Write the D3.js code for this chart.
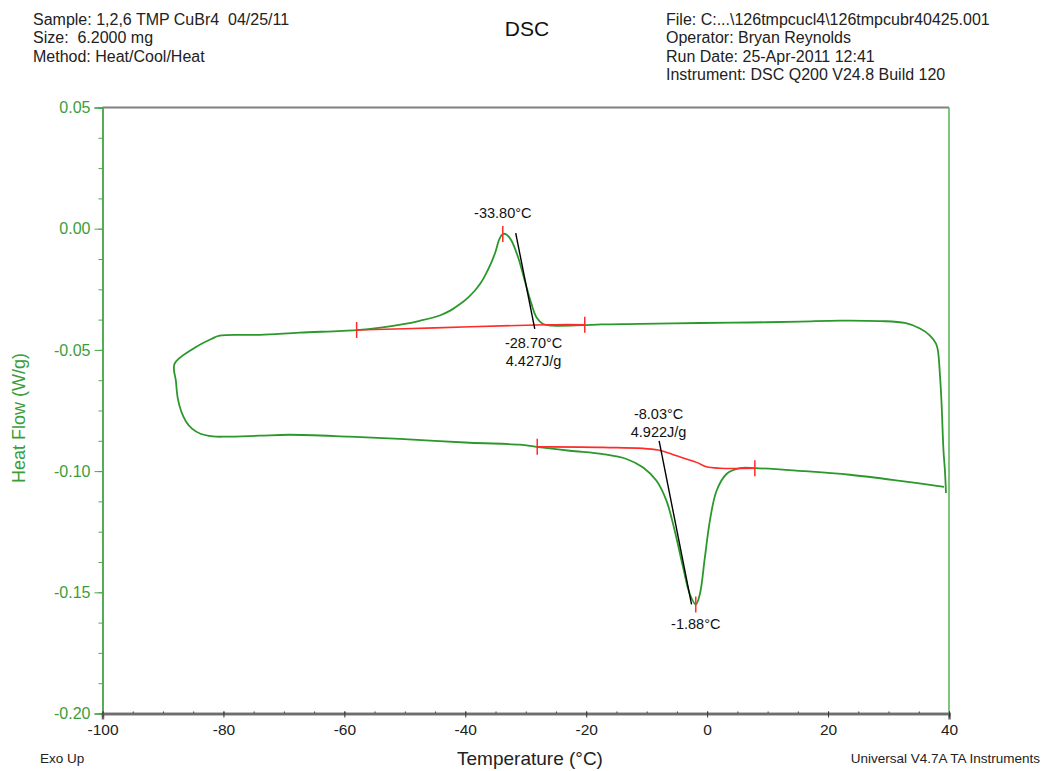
<!DOCTYPE html>
<html>
<head>
<meta charset="utf-8">
<script src="https://cdn.jsdelivr.net/npm/d3@7"></script>
<style>
  body { margin: 0; background: #fff; }
  svg { font-family: "Liberation Sans", Arial, sans-serif; }
</style>
</head>
<body>
<svg id="chart" width="1043" height="771"></svg>
<script>
// DSC trace: cool from 40 down to -88, then heat back to 40
const temperature = [
    39.50, 39.33, 39.09, 38.75, 38.51, 38.17, 37.85, 36.85, 35.20, 32.71,
    28.58, 21.96, 15.34, 7.07, -1.21, -11.14, -17.52, -20.57, -25.53, -27.14,
    -28.23, -29.06, -30.17, -31.28, -32.40, -33.20, -33.80, -34.40, -35.00, -35.70,
    -36.50, -37.40, -38.44, -39.50, -40.92, -42.50, -44.23, -47.54, -50.50, -54.00,
    -57.97, -67.40, -74.02, -80.64, -82.01, -85.06, -88.09, -87.85, -87.55, -87.00,
    -86.20, -85.20, -83.80, -81.75, -79.53, -74.02, -69.06, -59.13, -50.85, -39.27,
    -31.00, -28.23, -22.72, -17.21, -13.34, -10.59, -8.37, -6.72, -5.35, -3.97,
    -2.86, -1.88, -1.21, -0.38, 0.45, 1.56, 3.21, 5.41, 8.00, 15.34,
    23.60, 31.90, 39.17
];
const heatFlow = [
    -0.1090, -0.0999, -0.0916, -0.0710, -0.0606, -0.0503, -0.0474, -0.0441, -0.0412, -0.0389,
    -0.0381, -0.0379, -0.0383, -0.0387, -0.0389, -0.0393, -0.0395, -0.0398, -0.0400, -0.0393,
    -0.0365, -0.0310, -0.0214, -0.0117, -0.0048, -0.0024, -0.0022, -0.0045, -0.0095, -0.0140,
    -0.0182, -0.0222, -0.0256, -0.0283, -0.0312, -0.0338, -0.0358, -0.0380, -0.0395, -0.0408,
    -0.0418, -0.0429, -0.0438, -0.0441, -0.0455, -0.0496, -0.0558, -0.0630, -0.0700, -0.0752,
    -0.0795, -0.0825, -0.0846, -0.0857, -0.0858, -0.0854, -0.0850, -0.0858, -0.0867, -0.0883,
    -0.0891, -0.0900, -0.0916, -0.0930, -0.0950, -0.0985, -0.1040, -0.1123, -0.1247, -0.1398,
    -0.1508, -0.1550, -0.1508, -0.1357, -0.1205, -0.1081, -0.1012, -0.0988, -0.0988, -0.0999,
    -0.1015, -0.1040, -0.1065
];

// integration baselines
const upperBaseT = [-57.97, -45.0, -30.0, -25.0, -20.24];
const upperBaseHF = [-0.0418, -0.0409, -0.0398, -0.0396, -0.0396];
const lowerBaseT = [-28.10, -17.20, -8.10, -5.06, -1.75, -0.10, 2.10, 7.89];
const lowerBaseHF = [-0.0900, -0.0902, -0.0913, -0.0937, -0.0964, -0.0982, -0.0988, -0.0988];

// onset tangents [start, end]
const upperTangentT = [-31.66, -28.51];
const upperTangentHF = [-0.0018, -0.0413];
const lowerTangentT = [-7.94, -2.58];
const lowerTangentHF = [-0.0875, -0.1550];

// red limit / peak markers
const markerT = [-57.97, -20.24, -33.80, -28.10, 7.89, -1.88];
const markerHF = [-0.0418, -0.0396, -0.0022, -0.0900, -0.0988, -0.1550];

// annotation labels, anchored at a data point
const labelText = ['-33.80°C', '-28.70°C', '4.427J/g', '-8.03°C', '4.922J/g', '-1.88°C'];
const labelT = [-33.80, -28.70, -28.70, -8.03, -8.03, -1.88];
const labelHF = [-0.0022, -0.0397, -0.0397, -0.0913, -0.0913, -0.1550];
const labelDy = [-16, 23, 41, -31, -13, 25];

// axes
const xTickValues = [-100, -80, -60, -40, -20, 0, 20, 40];
const xTickLabels = ['-100', '-80', '-60', '-40', '-20', '0', '20', '40'];
const yTickValues = [0.05, 0.00, -0.05, -0.10, -0.15, -0.20];
const yTickLabels = ['0.05', '0.00', '-0.05', '-0.10', '-0.15', '-0.20'];

const headerLeft = ['Sample: 1,2,6 TMP CuBr4  04/25/11', 'Size:  6.2000 mg', 'Method: Heat/Cool/Heat'];
const headerRight = ['File: C:...\\126tmpcucl4\\126tmpcubr40425.001', 'Operator: Bryan Reynolds',
    'Run Date: 25-Apr-2011 12:41', 'Instrument: DSC Q200 V24.8 Build 120'];

const GREEN = '#2b982b';
const LABEL_GREEN = '#3a9e3a';
const RED = '#ff2a2a';

const margin = { top: 107.5, left: 102.5, right: 94, bottom: 57.5 };
const svg = d3.select('#chart');
const width = 1043 - margin.left - margin.right;
const height = 771 - margin.top - margin.bottom;

const xScale = d3.scaleLinear().domain([-100, 40]).range([margin.left, margin.left + width]);
const yScale = d3.scaleLinear().domain([-0.20, 0.05]).range([margin.top + height, margin.top]);

// header
svg.append('g').selectAll('text').data(headerLeft).join('text')
    .attr('x', 33).attr('y', (d, i) => 24.5 + i * 18.5)
    .attr('font-size', 16).attr('fill', '#222')
    .style('white-space', 'pre')
    .text(d => d);
svg.append('g').selectAll('text').data(headerRight).join('text')
    .attr('x', 666).attr('y', (d, i) => 24.5 + i * 18.5)
    .attr('font-size', 16).attr('fill', '#222')
    .text(d => d);
svg.append('text')
    .attr('x', 527).attr('y', 36)
    .attr('text-anchor', 'middle')
    .attr('font-size', 21).attr('fill', '#111')
    .text('DSC');

// frame: top grey, right green
svg.append('line')
    .attr('x1', xScale(-100)).attr('x2', xScale(40))
    .attr('y1', yScale(0.05)).attr('y2', yScale(0.05))
    .attr('stroke', '#808080').attr('stroke-width', 2);
svg.append('line')
    .attr('x1', xScale(40)).attr('x2', xScale(40))
    .attr('y1', yScale(0.05)).attr('y2', yScale(-0.20))
    .attr('stroke', '#55b055').attr('stroke-width', 1.5);

// y axis
const yMinor = d3.range(-0.20, 0.0501, 0.0125);
const yMinorAxis = svg.append('g')
    .attr('transform', `translate(${margin.left},0)`)
    .call(d3.axisLeft(yScale).tickValues(yMinor).tickSize(4).tickFormat(''));
const yAxis = svg.append('g')
    .attr('transform', `translate(${margin.left},0)`)
    .call(d3.axisLeft(yScale).tickValues(yTickValues).tickSize(8).tickPadding(4)
        .tickFormat((d, i) => yTickLabels[i]));
[yMinorAxis, yAxis].forEach(g => {
    g.select('.domain').attr('stroke', '#4aa84a').attr('stroke-width', 1.5);
    g.selectAll('.tick line').attr('stroke', '#4aa84a');
});
yAxis.selectAll('.tick text')
    .attr('font-size', 16).attr('fill', LABEL_GREEN)
    .attr('font-family', '"Liberation Sans", Arial, sans-serif');

svg.append('text')
    .attr('transform', `translate(25, 418) rotate(-90)`)
    .attr('text-anchor', 'middle')
    .attr('font-size', 18).attr('fill', LABEL_GREEN)
    .text('Heat Flow (W/g)');

// x axis
const xMinor = d3.range(-100, 40.1, 5);
const xMinorAxis = svg.append('g')
    .attr('transform', `translate(0,${margin.top + height})`)
    .call(d3.axisBottom(xScale).tickValues(xMinor).tickSize(3).tickFormat(''));
const xAxis = svg.append('g')
    .attr('transform', `translate(0,${margin.top + height})`)
    .call(d3.axisBottom(xScale).tickValues(xTickValues).tickSize(6).tickPadding(4)
        .tickFormat((d, i) => xTickLabels[i]));
[xMinorAxis, xAxis].forEach(g => {
    g.select('.domain').attr('stroke', '#6e6e6e').attr('stroke-width', 2.5);
    g.selectAll('.tick line').attr('stroke', '#333').attr('transform', 'translate(0,-2)');
});
xAxis.selectAll('.tick text')
    .attr('font-size', 15.5).attr('fill', '#222')
    .attr('font-family', '"Liberation Sans", Arial, sans-serif');

svg.append('text')
    .attr('x', 530).attr('y', 765)
    .attr('text-anchor', 'middle')
    .attr('font-size', 19).attr('fill', '#222')
    .text('Temperature (°C)');
svg.append('text')
    .attr('x', 40).attr('y', 763)
    .attr('font-size', 13.5).attr('fill', '#222')
    .text('Exo Up');
svg.append('text')
    .attr('x', 1040).attr('y', 763)
    .attr('text-anchor', 'end')
    .attr('font-size', 13.5).attr('fill', '#222')
    .text('Universal V4.7A TA Instruments');

// curves
const pts = (ts, hs) => ts.map((t, i) => [t, hs[i]]);
const smooth = d3.line()
    .x(d => xScale(d[0]))
    .y(d => yScale(d[1]))
    .curve(d3.curveCatmullRom.alpha(0.5));
const straight = d3.line()
    .x(d => xScale(d[0]))
    .y(d => yScale(d[1]));

const marks = svg.append('g').attr('fill', 'none');

marks.append('path')
    .datum(pts(temperature, heatFlow))
    .attr('d', smooth)
    .attr('stroke', GREEN).attr('stroke-width', 1.8);

[[upperBaseT, upperBaseHF], [lowerBaseT, lowerBaseHF]].forEach(([ts, hs]) => {
    marks.append('path')
        .datum(pts(ts, hs))
        .attr('d', smooth)
        .attr('stroke', RED).attr('stroke-width', 1.6);
});

[[upperTangentT, upperTangentHF], [lowerTangentT, lowerTangentHF]].forEach(([ts, hs]) => {
    marks.append('path')
        .datum(pts(ts, hs))
        .attr('d', straight)
        .attr('stroke', '#000').attr('stroke-width', 1.4);
});

marks.selectAll('line.marker')
    .data(pts(markerT, markerHF))
    .join('line')
    .attr('class', 'marker')
    .attr('x1', d => xScale(d[0])).attr('x2', d => xScale(d[0]))
    .attr('y1', d => yScale(d[1]) - 8).attr('y2', d => yScale(d[1]) + 8)
    .attr('stroke', RED).attr('stroke-width', 1.5);

// annotations
svg.append('g').selectAll('text')
    .data(labelText)
    .join('text')
    .attr('x', (d, i) => xScale(labelT[i]))
    .attr('y', (d, i) => yScale(labelHF[i]) + labelDy[i])
    .attr('text-anchor', 'middle')
    .attr('font-size', 14.5).attr('fill', '#111')
    .text(d => d);
</script>
</body>
</html>
